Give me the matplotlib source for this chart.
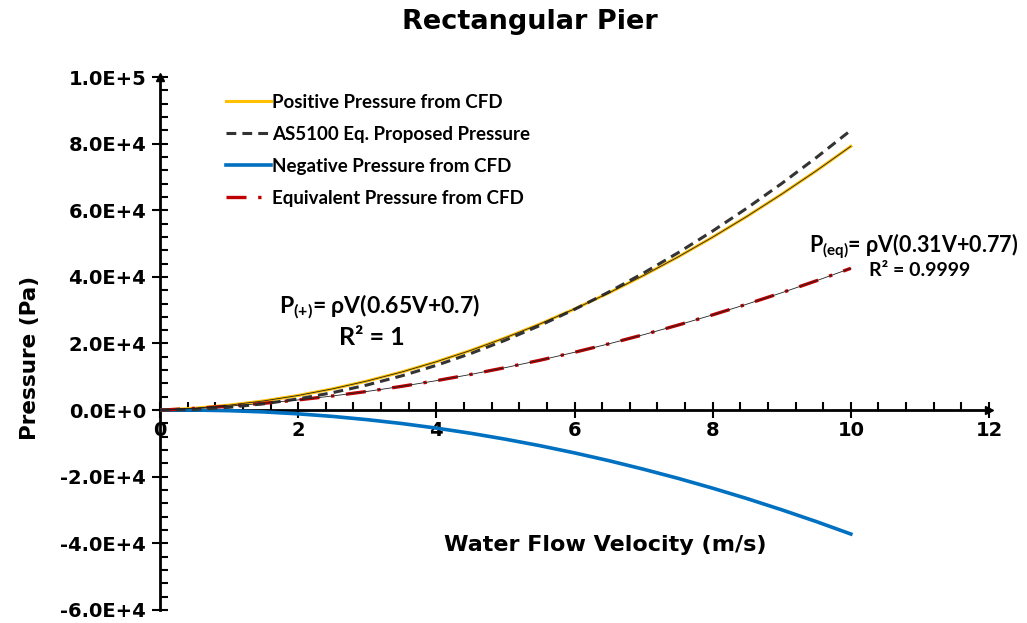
import matplotlib
matplotlib.use("Agg")
import matplotlib.pyplot as plt
from matplotlib.ticker import MultipleLocator, FuncFormatter

# Flow velocity (m/s)
velocity = [0, 0.5, 1, 1.5, 2, 2.5, 3, 3.5, 4, 4.5, 5, 5.5, 6, 6.5, 7, 7.5, 8, 8.5, 9, 9.5, 10]

# Pressures (Pa)
positive_cfd = [0, 560, 1490, 2760, 4400, 6390, 8750, 11450, 14520, 17940, 21730,
                25860, 30360, 35210, 40430, 45990, 51920, 58200, 64850, 71840, 79200]
as5100 = [0, 210, 840, 1890, 3360, 5250, 7560, 10290, 13440, 17010, 21000,
          25410, 30240, 35490, 41160, 47250, 53760, 60690, 68040, 75810, 84000]
negative_cfd = [0, 20, -170, -540, -1120, -1890, -2870, -4030, -5400, -6960, -8730,
                -10680, -12840, -15190, -17750, -20490, -23440, -26580, -29930, -33460, -37200]
equivalent_cfd = [0, 510, 1190, 2040, 3060, 4250, 5610, 7140, 8840, 10720, 12760,
                  14970, 17360, 19910, 22640, 25530, 28600, 31840, 35240, 38820, 42570]

legend_labels = ["Positive Pressure from CFD", "AS5100 Eq. Proposed Pressure",
                 "Negative Pressure from CFD", "Equivalent Pressure from CFD"]

plt.rcParams["mathtext.fontset"] = "custom"
plt.rcParams["mathtext.rm"] = "Lato:bold"
plt.rcParams["mathtext.it"] = "Lato:bold"
plt.rcParams["mathtext.bf"] = "Lato:bold"


def sci_label(v, pos):
    if v == 0:
        return "0.0E+0"
    exp = len(str(int(abs(v)))) - 1
    return "%.1fE%+d" % (v / 10 ** exp, exp)


fig = plt.figure(figsize=(10.27, 6.23), dpi=100)
ax = fig.add_axes([0.1558, 0.0209, 0.963 - 0.1558, 0.8764 - 0.0209])

ax.plot(velocity, positive_cfd, color="#FFC000", lw=2.2, label=legend_labels[0], zorder=3)
ax.plot(velocity, as5100, color="#333333", lw=2.2, ls=(0, (3.2, 2.0)), label=legend_labels[1], zorder=4)
ax.plot(velocity, negative_cfd, color="#0070C0", lw=2.6, label=legend_labels[2], zorder=3)
ax.plot(velocity, equivalent_cfd, color="#C00000", lw=2.4, ls=(0, (6, 3.5, 1, 3.5)), label=legend_labels[3], zorder=3)
# fitted trendlines
ax.plot(velocity, positive_cfd, color="#222222", lw=0.6, zorder=5)
ax.plot(velocity, equivalent_cfd, color="#222222", lw=0.6, zorder=5)

ax.set_xlim(0, 12)
ax.set_ylim(-60000, 100000)

for s in ("top", "right"):
    ax.spines[s].set_visible(False)
ax.spines["bottom"].set_position(("data", 0))
ax.spines["left"].set_position(("data", 0))
ax.spines["bottom"].set_linewidth(2)
ax.spines["left"].set_linewidth(2)
ax.spines["bottom"].set_zorder(2)

# arrow heads on axes
ax.plot(1, 0, ">", color="black", ms=6, transform=ax.get_yaxis_transform(), clip_on=False)
ax.plot(0, 1, "^", color="black", ms=6, transform=ax.get_xaxis_transform(), clip_on=False)

ax.xaxis.set_major_locator(MultipleLocator(2))
ax.xaxis.set_minor_locator(MultipleLocator(0.4))
ax.yaxis.set_major_locator(MultipleLocator(20000))
ax.yaxis.set_minor_locator(MultipleLocator(4000))
ax.yaxis.set_major_formatter(FuncFormatter(sci_label))
ax.xaxis.set_major_formatter(FuncFormatter(lambda v, p: "%d" % v))

ax.tick_params(axis="both", which="major", direction="inout", length=12, width=1.5, labelsize=14)
ax.tick_params(axis="x", which="minor", direction="in", length=6, width=1.5)
ax.tick_params(axis="y", which="minor", direction="in", length=6, width=1.5)
ax.tick_params(axis="y", which="major", pad=4)
ax.tick_params(axis="x", which="major", pad=2)
for lab in ax.get_xticklabels() + ax.get_yticklabels():
    lab.set_fontweight("bold")

fig.text(0.516, 0.964, "Rectangular Pier", ha="center", va="center",
         fontsize=19.5, fontweight="bold")
fig.text(0.029, 0.425, "Pressure (Pa)", rotation=90, ha="center", va="center",
         fontsize=15.5, fontweight="bold")
ax.text(6.45, -40500, "Water Flow Velocity (m/s)", ha="center", va="center",
        fontsize=16, fontweight="bold")

ax.text(3.18, 31000, r"P$_{\mathrm{(+)}}$= ρV(0.65V+0.7)", ha="center", va="center",
        fontsize=16.5, family="Lato", fontweight="bold")
ax.text(3.06, 21900, "R² = 1", ha="center", va="center",
        fontsize=18, family="Lato", fontweight="bold")
ax.text(12.42, 49300, r"P$_{\mathrm{(eq)}}$= ρV(0.31V+0.77)", ha="right", va="center",
        fontsize=15.5, family="Lato", fontweight="bold")
ax.text(11.0, 41800, "R² = 0.9999", ha="center", va="center",
        fontsize=14, family="Lato", fontweight="bold")

leg = ax.legend(loc="upper left", bbox_to_anchor=(0.07, 0.983), frameon=False,
                prop={"family": "Lato", "weight": "bold", "size": 13.5},
                handlelength=2.4, handletextpad=0.1, labelspacing=0.8, borderaxespad=0)

fig.savefig("out.png", dpi=100)
